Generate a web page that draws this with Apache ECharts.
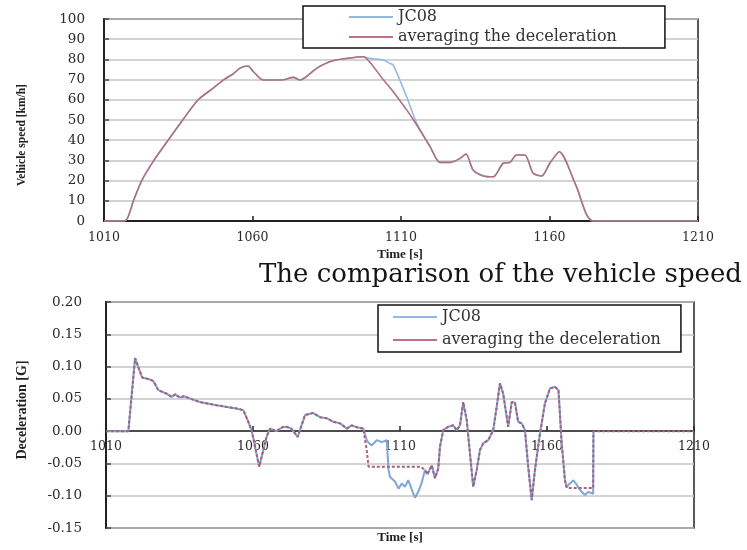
<!DOCTYPE html>
<html>
<head>
<meta charset="utf-8">
<script src="https://cdn.jsdelivr.net/npm/echarts@6/dist/echarts.min.js"></script>
<style>
html,body{margin:0;padding:0;background:#fff;}
#chart{width:747px;height:550px;}
</style>
</head>
<body>
<div id="chart"></div>
<script>
// ---- Vehicle speed (top) ----
var speedTime = [1010,1017,1020,1022.7,1026.8,1031.6,1036.5,1041.7,1046.8,1050.4,1053.5,1055.8,1058.5,1060.3,1063.6,1069.8,1073.7,1076,1081.7,1087,1092.8,1097.3,1099.6,1104,1106.3,1107.4,1111.9,1115.3,1119.8,1123.1,1126.5,1129.9,1131.9,1134.3,1137.7,1141.1,1144.4,1146.7,1148.9,1151.7,1154.5,1157.4,1160.1,1163.3,1169,1174.8,1210];
var speedJC08 = [0,0,10.4,20,30,40,50,60,65.8,70,72.8,75.7,76.7,73.9,69.8,69.8,71.1,69.8,75.7,79.3,80.7,81.3,80.5,79.7,78,77.2,61.5,48.4,36.8,29,29,31,33.2,25.2,22.3,21.9,28.6,29,32.7,32.7,23.6,22.3,28.6,34.3,17.3,0,0];
var speedAvg  = [0,0,10.4,20,30,40,50,60,65.8,70,72.8,75.7,76.7,73.9,69.8,69.8,71.1,69.8,75.7,79.3,80.7,81.3,78.5,70,66,64,55,47.5,36.8,29,29,31,33.2,25.2,22.3,21.9,28.6,29,32.7,32.7,23.6,22.3,28.6,34.3,17.3,0,0];

// ---- Deceleration (bottom) ----
var decelTime = [1010,1017.6,1019.9,1022.3,1025,1026.2,1027.8,1030.6,1032.3,1033.5,1035.2,1036.4,1042,1047.6,1054.4,1056.7,1058.4,1059.6,1062.1,1064.6,1065.8,1068,1070,1071.5,1073,1075.2,1077.7,1080.5,1082.8,1085,1087.4,1089.6,1091.9,1093.6,1095.3,1097.5,1098.7,1099.3,1100.4,1102.1,1103.8,1105.5,1106.1,1106.6,1108.3,1109.5,1110.6,1111.7,1112.8,1113.9,1115.1,1116.2,1117.3,1118.5,1119.3,1120.8,1121.9,1123,1123.6,1124.7,1126.4,1128.1,1129.3,1130.4,1131.5,1132.7,1133.8,1134.9,1136.1,1137.2,1138.3,1140,1141.7,1142.9,1144,1145.1,1146.3,1146.8,1148,1149.1,1150.2,1151.4,1152.5,1153.6,1154.8,1155.9,1157.6,1159.3,1161,1162.7,1163.9,1165,1166.1,1166.7,1167.8,1169,1170.1,1171.2,1172.9,1174,1175.7,1175.8,1210];
var decelJC08 = [0,0,0.113,0.083,0.080,0.077,0.0635,0.058,0.053,0.057,0.052,0.054,0.045,0.040,0.035,0.0325,0.0145,0,-0.055,-0.009,0.004,0,0.006,0.0067,0.004,-0.009,0.025,0.028,0.0216,0.02,0.0145,0.012,0.004,0.009,0.006,0.004,-0.014,-0.018,-0.022,-0.014,-0.017,-0.014,-0.06,-0.071,-0.078,-0.089,-0.081,-0.086,-0.076,-0.089,-0.103,-0.094,-0.081,-0.06,-0.067,-0.053,-0.073,-0.058,-0.024,0.0015,0.0067,0.009,0.0015,0.009,0.045,0.017,-0.035,-0.086,-0.06,-0.029,-0.019,-0.014,0.0015,0.038,0.074,0.058,0.022,0.0067,0.045,0.044,0.0145,0.012,0.0015,-0.055,-0.107,-0.06,-0.004,0.043,0.066,0.0687,0.0635,-0.019,-0.076,-0.086,-0.081,-0.076,-0.083,-0.091,-0.099,-0.094,-0.097,0,null];
var decelAvg  = [0,0,0.113,0.083,0.080,0.077,0.0635,0.058,0.053,0.057,0.052,0.054,0.045,0.040,0.035,0.0325,0.0145,0,-0.055,-0.009,0.004,0,0.006,0.0067,0.004,-0.009,0.025,0.028,0.0216,0.02,0.0145,0.012,0.004,0.009,0.006,0.004,-0.03,-0.055,-0.055,-0.055,-0.055,-0.055,-0.055,-0.055,-0.055,-0.055,-0.055,-0.055,-0.055,-0.055,-0.055,-0.055,-0.056,-0.06,-0.067,-0.053,-0.073,-0.058,-0.024,0.0015,0.0067,0.009,0.0015,0.009,0.045,0.017,-0.035,-0.086,-0.06,-0.029,-0.019,-0.014,0.0015,0.038,0.074,0.058,0.022,0.0067,0.045,0.044,0.0145,0.012,0.0015,-0.055,-0.107,-0.06,-0.004,0.043,0.066,0.0687,0.0635,-0.019,-0.076,-0.088,-0.088,-0.088,-0.088,-0.088,-0.088,-0.088,-0.088,0,0];

var seriesNames = ['JC08', 'averaging the deceleration'];
var speedTicks = [0,10,20,30,40,50,60,70,80,90,100];
var timeTicks = [1010,1060,1110,1160,1210];
var decelRange = [-0.15, 0.2];

function pairs(t, v) { return t.map(function (x, i) { return [x, v[i]]; }); }

var serif = 'DejaVu Serif';
var labelColor = '#2a2a2a';
var gridLine = { show: true, lineStyle: { color: '#c4c4c4', width: 1.6 } };
var plain = function (v) { return String(v); };

var chart = echarts.init(document.getElementById('chart'), null, { renderer: 'canvas' });
chart.setOption({
  animation: false,
  backgroundColor: '#ffffff',
  title: {
    text: 'The comparison of the vehicle speed',
    left: 254, top: 257,
    textStyle: { fontFamily: serif, fontSize: 26, fontWeight: 'normal', color: '#151515' }
  },
  legend: [
    {
      data: seriesNames, orient: 'vertical', left: 303, top: 6,
      padding: [3, 48, 3, 46], itemGap: 4, itemWidth: 44, itemHeight: 2, icon: 'rect',
      borderColor: '#111', borderWidth: 1.5, backgroundColor: '#fff', borderRadius: 0,
      textStyle: { fontFamily: serif, fontSize: 16, color: '#333' }
    },
    {
      data: seriesNames, orient: 'vertical', left: 378, top: 305,
      padding: [4, 20, 4, 15], itemGap: 7, itemWidth: 44, itemHeight: 2, icon: 'rect',
      borderColor: '#111', borderWidth: 1.5, backgroundColor: '#fff', borderRadius: 0,
      textStyle: { fontFamily: serif, fontSize: 16, color: '#333' }
    }
  ],
  grid: [
    { left: 104, right: 49, top: 19, bottom: 329, show: true, borderColor: '#222', borderWidth: 1.5, backgroundColor: 'transparent' },
    { left: 106, right: 53, top: 302, bottom: 22, show: true, borderColor: '#222', borderWidth: 1.5, backgroundColor: 'transparent' }
  ],
  xAxis: [
    {
      gridIndex: 0, type: 'value', min: timeTicks[0], max: timeTicks[timeTicks.length - 1], interval: 50,
      axisLine: { show: true, lineStyle: { color: '#222', width: 2 } },
      axisTick: { show: true, inside: true, length: 5, lineStyle: { color: '#222', width: 1.5 } },
      axisLabel: { fontFamily: serif, fontSize: 12.5, color: labelColor, margin: 10, formatter: plain },
      splitLine: { show: false }
    },
    {
      gridIndex: 1, type: 'value', min: timeTicks[0], max: timeTicks[timeTicks.length - 1], interval: 50,
      offset: -97,
      axisLine: { show: true, onZero: false, lineStyle: { color: '#222', width: 1.5 } },
      axisTick: { show: true, inside: true, length: 5, lineStyle: { color: '#222', width: 1.5 } },
      axisLabel: { fontFamily: serif, fontSize: 12.5, color: labelColor, margin: 9, formatter: plain },
      splitLine: { show: false }
    }
  ],
  yAxis: [
    {
      gridIndex: 0, type: 'value', min: speedTicks[0], max: speedTicks[speedTicks.length - 1], interval: 10,
      axisLine: { show: true, lineStyle: { color: '#222', width: 2 } },
      axisTick: { show: true, inside: true, length: 5, lineStyle: { color: '#444', width: 1.5 } },
      axisLabel: { fontFamily: serif, fontSize: 13.5, color: labelColor, margin: 19 },
      splitLine: gridLine
    },
    {
      gridIndex: 1, type: 'value', min: decelRange[0], max: decelRange[1], interval: 0.05,
      axisLine: { show: true, onZero: false, lineStyle: { color: '#222', width: 2 } },
      axisTick: { show: true, inside: true, length: 5, lineStyle: { color: '#444', width: 1.5 } },
      axisLabel: { fontFamily: serif, fontSize: 13.5, color: labelColor, margin: 24,
        formatter: function (v) { return (Math.abs(v) < 1e-9 ? 0 : v).toFixed(2); } },
      splitLine: gridLine
    }
  ],
  graphic: [
    { type: 'text', x: 22, y: 135, rotation: Math.PI / 2,
      style: { text: 'Vehicle speed [km/h]', fontFamily: 'Liberation Serif', fontWeight: 'bold', fontSize: 11.5, fill: '#222', align: 'center', verticalAlign: 'middle' } },
    { type: 'text', x: 400, y: 255,
      style: { text: 'Time [s]', fontFamily: 'Liberation Serif', fontWeight: 'bold', fontSize: 13, fill: '#222', align: 'center', verticalAlign: 'middle' } },
    { type: 'text', x: 400, y: 538,
      style: { text: 'Time [s]', fontFamily: 'Liberation Serif', fontWeight: 'bold', fontSize: 13, fill: '#222', align: 'center', verticalAlign: 'middle' } },
    { type: 'text', x: 22, y: 410, rotation: Math.PI / 2,
      style: { text: 'Deceleration [G]', fontFamily: 'Liberation Serif', fontWeight: 'bold', fontSize: 14, fill: '#222', align: 'center', verticalAlign: 'middle' } }
  ],
  series: [
    { name: seriesNames[0], type: 'line', xAxisIndex: 0, yAxisIndex: 0, showSymbol: false, smooth: 0.25,
      data: pairs(speedTime, speedJC08), lineStyle: { color: '#94b8e0', width: 1.6 }, itemStyle: { color: '#94b8e0' }, z: 2 },
    { name: seriesNames[1], type: 'line', xAxisIndex: 0, yAxisIndex: 0, showSymbol: false, smooth: 0.25,
      data: pairs(speedTime, speedAvg), lineStyle: { color: '#b07080', width: 1.6 }, itemStyle: { color: '#c07080' }, z: 3 },
    { name: seriesNames[0], type: 'line', xAxisIndex: 1, yAxisIndex: 1, showSymbol: false, connectNulls: false,
      data: pairs(decelTime, decelJC08), lineStyle: { color: '#7ea6d6', width: 2 }, z: 2 },
    { name: seriesNames[1], type: 'line', xAxisIndex: 1, yAxisIndex: 1, showSymbol: false,
      data: pairs(decelTime, decelAvg), lineStyle: { color: '#a8607a', width: 2, type: [3, 2] }, z: 3 }
  ]
});
</script>
</body>
</html>
